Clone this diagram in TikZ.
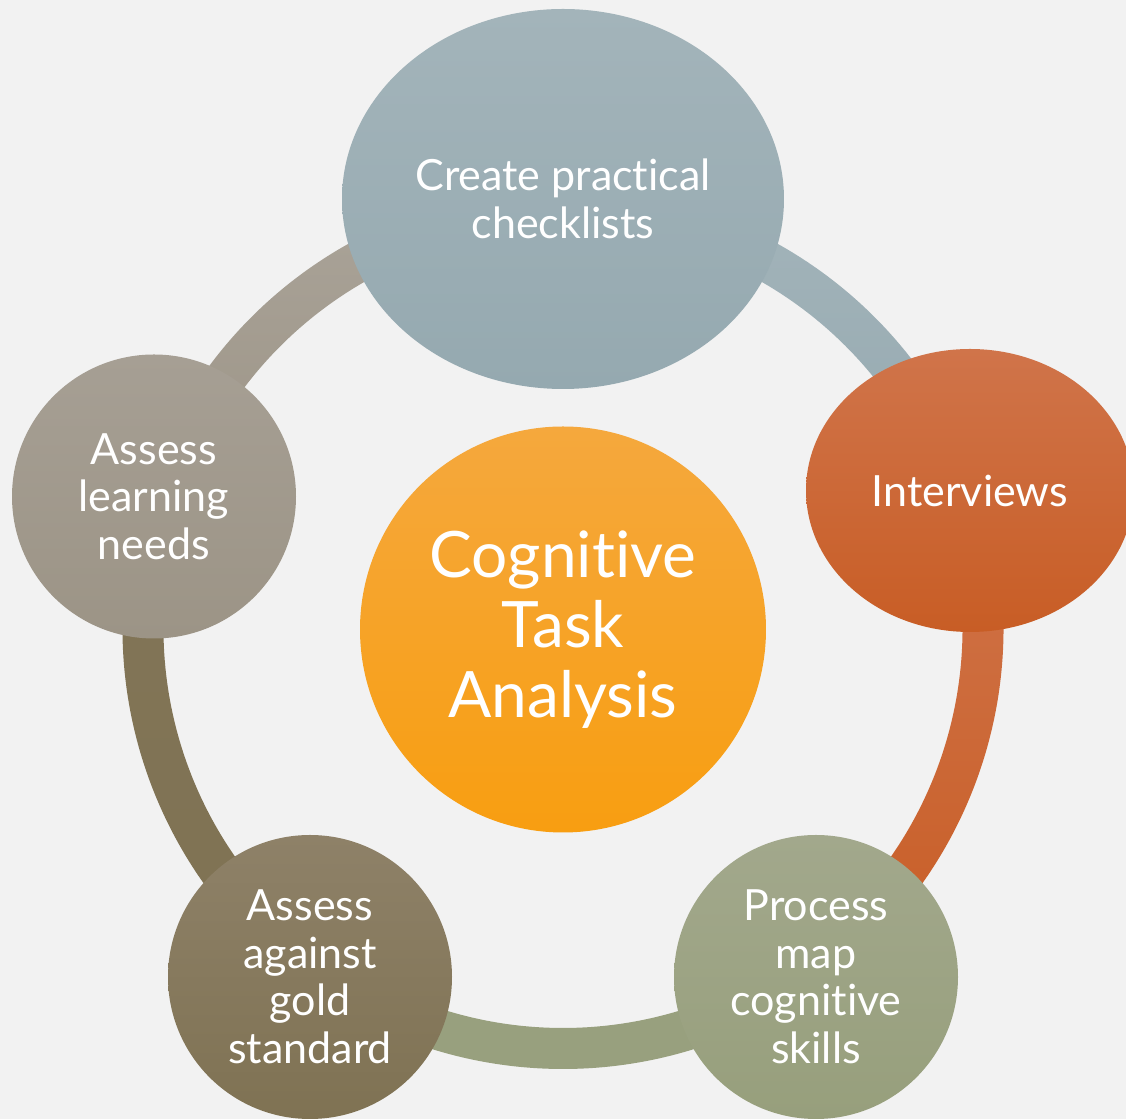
\documentclass[tikz,border=0pt]{standalone}
\usepackage{fontspec}
\setmainfont{Lato}[Ligatures={NoCommon,NoRare}]
\usetikzlibrary{shapes.geometric}
\definecolor{bg}{HTML}{F2F2F2}
\definecolor{topA}{HTML}{A3B4BA}\definecolor{topB}{HTML}{95A9B0}
\definecolor{rgtA}{HTML}{D0744A}\definecolor{rgtB}{HTML}{C85D25}
\definecolor{cenA}{HTML}{F5A83D}\definecolor{cenB}{HTML}{F89E11}
\definecolor{brA}{HTML}{A2A88C}\definecolor{brB}{HTML}{979F7C}
\definecolor{blA}{HTML}{8E8168}\definecolor{blB}{HTML}{7F7253}
\definecolor{lftA}{HTML}{A69F94}\definecolor{lftB}{HTML}{9C9486}
\begin{document}
\begin{tikzpicture}[x=0.5pt,y=0.5pt,
  lbl/.style={text=white, align=center, inner sep=0pt, font=\fontsize{21.5}{23.75}\selectfont},
  smallc/.style={circle, minimum size=142pt, inner sep=0pt, lbl},
  band/.style={draw=none}]
\useasboundingbox (0,0) rectangle (1126,1119);
\clip (0,0) rectangle (1126,1119);
\fill[bg] (0,0) rectangle (1126,1119);
\coordinate (ring) at (563,490.5);
% ring segments (annular sectors), outer 440.5, inner 399.5
\path[band, top color=lftA!95!white, bottom color=lftB] ([shift={(162:440.5)}]ring) arc[start angle=162, end angle=90, radius=440.5] -- ([shift={(90:399.5)}]ring) arc[start angle=90, end angle=162, radius=399.5] -- cycle;
\path[band, top color=topA, bottom color=topB] ([shift={(90:440.5)}]ring) arc[start angle=90, end angle=18, radius=440.5] -- ([shift={(18:399.5)}]ring) arc[start angle=18, end angle=90, radius=399.5] -- cycle;
\path[band, top color=rgtA, bottom color=rgtB] ([shift={(18:440.5)}]ring) arc[start angle=18, end angle=-54, radius=440.5] -- ([shift={(-54:399.5)}]ring) arc[start angle=-54, end angle=18, radius=399.5] -- cycle;
\path[band, fill=brB!90!brA] ([shift={(-54:440.5)}]ring) arc[start angle=-54, end angle=-126, radius=440.5] -- ([shift={(-126:399.5)}]ring) arc[start angle=-126, end angle=-54, radius=399.5] -- cycle;
\path[band, top color=blB!80!blA, bottom color=blB] ([shift={(-126:440.5)}]ring) arc[start angle=-126, end angle=-198, radius=440.5] -- ([shift={(-198:399.5)}]ring) arc[start angle=-198, end angle=-126, radius=399.5] -- cycle;
% nodes
\node[ellipse, minimum width=221pt, minimum height=190pt, inner sep=0pt, top color=topA, bottom color=topB, lbl] (t) at (563,920) {Create practical\\checklists};
\node[ellipse, minimum width=164pt, minimum height=141.5pt, inner sep=0pt, top color=rgtA, bottom color=rgtB, lbl] (r) at (970,628.5) {Interviews};
\node[smallc, top color=brA, bottom color=brB] (br) at (816,142) {Process\\map\\cognitive\\skills};
\node[smallc, top color=blA, bottom color=blB] (bl) at (310,142) {Assess\\against\\gold\\standard};
\node[smallc, top color=lftA, bottom color=lftB] (l) at (154,622.5) {Assess\\learning\\needs};
\node[circle, minimum size=203pt, inner sep=0pt, top color=cenA, bottom color=cenB, text=white, align=center, font=\fontsize{32}{35}\selectfont] (c) at (563,489.5) {Cognitive\\Task\\Analysis};
\end{tikzpicture}
\end{document}
